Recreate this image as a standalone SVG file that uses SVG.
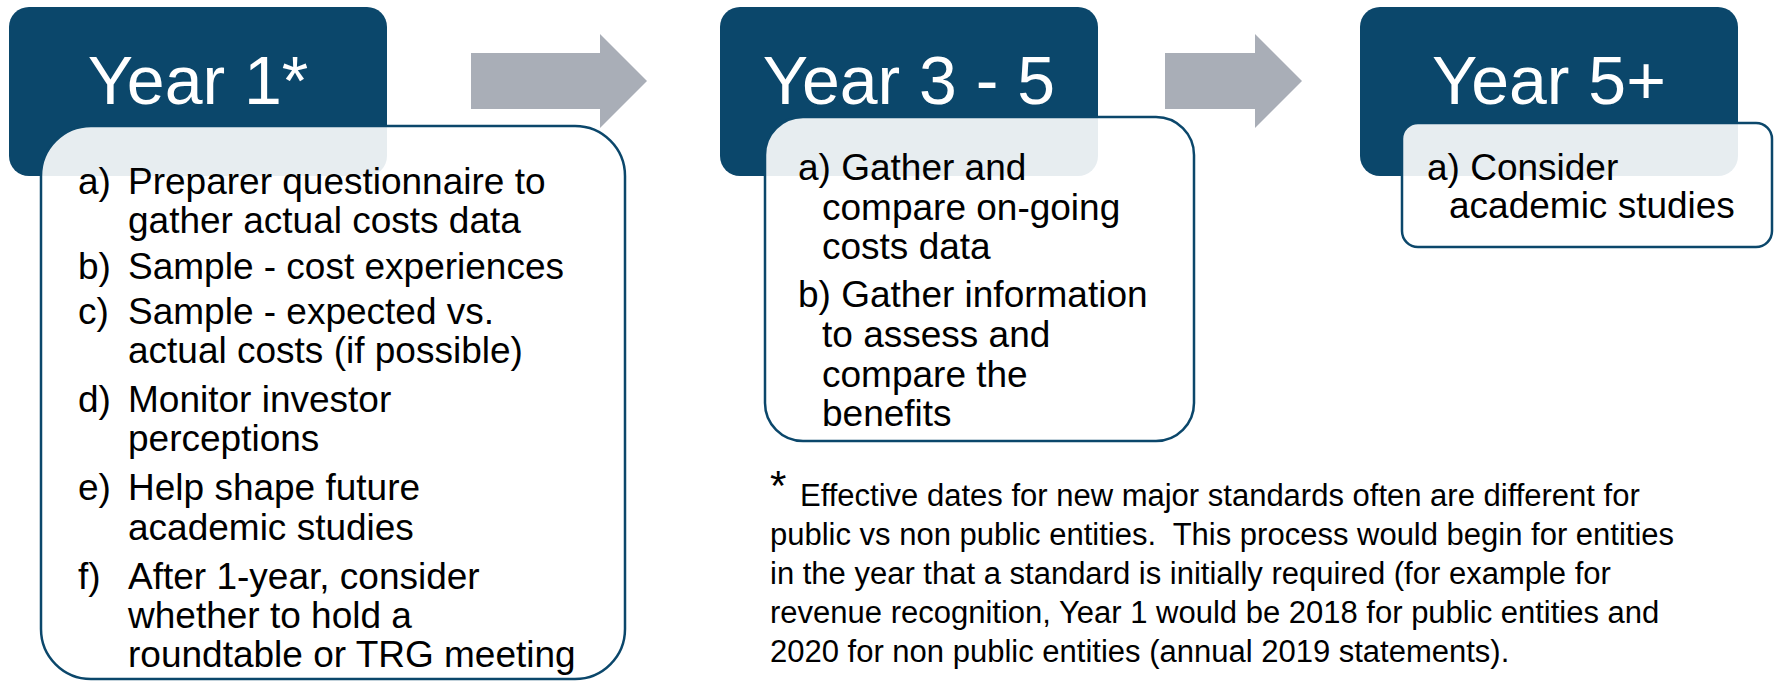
<svg xmlns="http://www.w3.org/2000/svg" width="1775" height="682" viewBox="0 0 1775 682">
<style>
.head{fill:#0B476B}
.body{fill:#FFFFFF;fill-opacity:0.9;stroke:#0B476B;stroke-width:2.5}
.title{font-family:"Liberation Sans",Arial,sans-serif;font-size:68px;fill:#FFFFFF;text-anchor:middle}
.item{font-family:"Liberation Sans",Arial,sans-serif;font-size:37px;fill:#000000}
.note{font-family:"Liberation Sans",Arial,sans-serif;font-size:31px;fill:#000000}
.arrow{fill:#A9AEB7}
</style>
<rect width="1775" height="682" fill="#FFFFFF"/>
<g id="connectors">
<polygon class="arrow" points="471,53 600,53 600,34 647,81 600,128 600,109 471,109"/>
<polygon class="arrow" points="1165,53 1255,53 1255,34 1302,81 1255,128 1255,109 1165,109"/>
</g>
<g id="year1">
<rect class="head" x="9" y="7" width="378" height="169" rx="20"/>
<text class="title" x="198" y="104">Year 1*</text>
<rect class="body" x="41" y="126" width="584" height="553" rx="50"/>
<text class="item">
<tspan x="78" y="194">a)</tspan><tspan x="128" y="194">Preparer questionnaire to</tspan>
<tspan x="128" y="233">gather actual costs data</tspan>
<tspan x="78" y="279">b)</tspan><tspan x="128" y="279">Sample - cost experiences</tspan>
<tspan x="78" y="324">c)</tspan><tspan x="128" y="324">Sample - expected vs.</tspan>
<tspan x="128" y="363">actual costs (if possible)</tspan>
<tspan x="78" y="412">d)</tspan><tspan x="128" y="412">Monitor investor</tspan>
<tspan x="128" y="451">perceptions</tspan>
<tspan x="78" y="500">e)</tspan><tspan x="128" y="500">Help shape future</tspan>
<tspan x="128" y="540">academic studies</tspan>
<tspan x="78" y="589">f)</tspan><tspan x="128" y="589">After 1-year, consider</tspan>
<tspan x="128" y="628">whether to hold a</tspan>
<tspan x="128" y="667">roundtable or TRG meeting</tspan>
</text>
</g>
<g id="year3-5">
<rect class="head" x="720" y="7" width="378" height="169" rx="20"/>
<text class="title" x="909" y="104">Year 3 - 5</text>
<rect class="body" x="765" y="117" width="429" height="324" rx="38"/>
<text class="item">
<tspan x="798" y="180">a) Gather and</tspan>
<tspan x="822" y="220">compare on-going</tspan>
<tspan x="822" y="259">costs data</tspan>
<tspan x="798" y="307">b) Gather information</tspan>
<tspan x="822" y="347">to assess and</tspan>
<tspan x="822" y="387">compare the</tspan>
<tspan x="822" y="426">benefits</tspan>
</text>
</g>
<g id="year5plus">
<rect class="head" x="1360" y="7" width="378" height="169" rx="20"/>
<text class="title" x="1549" y="104">Year 5+</text>
<rect class="body" x="1402" y="123" width="370" height="124" rx="16"/>
<text class="item">
<tspan x="1427" y="180">a) Consider</tspan>
<tspan x="1449" y="218">academic studies</tspan>
</text>
</g>
<g id="footnote">
<text class="note" x="770" y="500" style="font-size:42px">*</text>
<text class="note">
<tspan x="800" y="506">Effective dates for new major standards often are different for</tspan>
<tspan x="770" y="545">public vs non public entities.&#160; This process would begin for entities</tspan>
<tspan x="770" y="584">in the year that a standard is initially required (for example for</tspan>
<tspan x="770" y="623">revenue recognition, Year 1 would be 2018 for public entities and</tspan>
<tspan x="770" y="662">2020 for non public entities (annual 2019 statements).</tspan>
</text>
</g>
</svg>
